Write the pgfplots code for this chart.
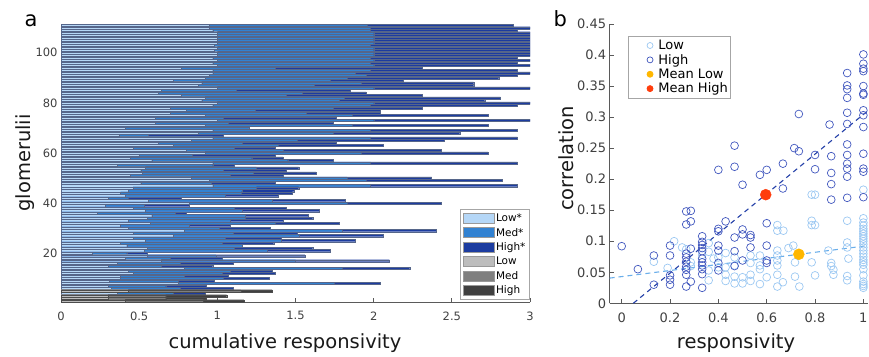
\documentclass[border=0pt]{standalone}
\usepackage{fontspec}
\setmainfont{DejaVu Sans}
\usepackage{pgfplots}
\pgfplotsset{compat=1.18}
\usepackage{pgfplotstable}
\definecolor{lowS}{HTML}{B5D7F7}
\definecolor{medS}{HTML}{3282D2}
\definecolor{highS}{HTML}{1C3CA0}
\definecolor{lowG}{HTML}{BDBDBD}
\definecolor{medG}{HTML}{7F7F7F}
\definecolor{highG}{HTML}{404040}
\definecolor{edge}{HTML}{56668A}
\definecolor{ptLow}{HTML}{9CC8F2}
\definecolor{ptHigh}{HTML}{4157BE}
\definecolor{fitHigh}{HTML}{2440A8}
\definecolor{fitLow}{HTML}{6AAEEA}
\definecolor{mLow}{HTML}{FFB700}
\definecolor{mHigh}{HTML}{FF3D0D}
\definecolor{axc}{HTML}{5A5A5A}
\definecolor{tickc}{HTML}{404040}

\pgfplotstableread{
i L M H
111 0.95 1.96 2.89
110 0.95 1.98 3.00
109 0.97 1.98 2.92
108 1.00 2.00 3.00
107 1.00 2.00 3.00
106 1.00 2.00 3.00
105 1.00 2.00 3.00
104 1.00 2.00 3.00
103 0.98 1.98 3.00
102 1.00 2.00 3.00
101 0.98 2.00 3.00
100 1.00 2.00 3.00
99 1.00 2.00 3.00
98 0.97 1.98 2.92
97 1.00 2.00 3.00
96 0.97 1.98 2.92
95 1.00 2.00 3.00
94 0.77 1.37 2.31
93 0.97 1.98 2.92
92 0.97 1.88 3.00
91 0.95 1.95 2.92
90 0.92 1.83 2.80
89 0.72 1.72 2.19
88 0.90 1.92 2.64
87 0.88 1.62 2.64
86 1.00 2.00 3.00
85 0.64 1.12 1.85
84 0.62 1.54 1.95
83 0.77 1.44 2.31
82 0.92 1.81 2.81
81 0.90 1.78 2.71
80 1.00 2.00 3.00
79 0.97 1.98 2.92
78 0.70 1.74 2.31
77 0.80 1.24 2.04
76 0.70 1.57 2.04
75 0.92 1.86 2.73
74 0.60 1.04 1.76
73 1.00 2.00 3.00
72 0.60 1.07 1.74
71 0.92 1.86 2.73
70 0.41 1.20 1.20
69 0.97 1.98 2.92
68 0.88 1.74 2.55
67 0.37 0.56 1.04
66 0.97 1.98 2.92
65 0.83 1.51 2.45
64 0.62 1.16 1.76
63 0.72 1.39 2.06
62 0.46 1.11 1.37
61 0.80 1.42 2.43
60 0.92 1.92 2.73
59 0.50 0.84 1.37
58 0.44 1.22 1.42
57 0.58 1.45 1.74
56 0.97 1.98 2.92
55 0.36 0.97 1.11
54 0.54 1.25 1.52
53 0.51 1.04 1.44
52 0.52 1.23 1.63
51 0.44 1.08 1.42
50 0.83 1.83 2.37
49 0.95 1.95 2.82
48 0.51 0.96 1.37
47 0.97 1.98 2.92
46 0.46 1.25 1.52
45 0.43 1.16 1.49
44 0.38 1.15 1.48
43 0.41 1.05 1.39
42 0.30 0.43 0.77
41 0.56 1.35 1.82
40 0.82 1.83 2.43
39 0.28 0.53 0.82
38 0.46 1.11 1.44
37 0.54 1.16 1.65
36 0.23 0.73 0.80
35 0.58 1.18 1.58
34 0.55 1.18 1.61
33 0.43 1.08 1.42
32 0.57 1.37 1.78
31 0.38 0.82 1.08
30 0.43 1.01 1.34
29 0.79 1.80 2.40
28 0.46 1.10 1.51
27 0.72 1.52 2.06
26 0.46 1.05 1.41
25 0.54 1.41 1.88
24 0.38 1.03 1.36
23 0.42 1.16 1.16
22 0.55 1.11 1.61
21 0.53 1.32 1.72
20 0.20 0.42 0.55
19 0.55 0.99 1.56
18 0.41 0.70 1.03
17 0.64 1.50 2.10
16 0.36 0.76 1.10
15 0.30 0.64 0.97
14 0.79 1.80 2.23
13 0.43 1.08 1.35
12 0.46 1.03 1.37
11 0.38 0.79 1.07
10 0.38 1.04 1.33
9 0.31 0.75 0.98
8 0.75 1.75 2.04
7 0.30 0.67 0.93
6 0.32 0.76 1.10
4 0.36 0.72 0.92
}\bluetab

\pgfplotstableread{
i L M H
5 0.43 1.15 1.35
3 0.30 0.67 1.06
2 0.30 0.67 0.93
1 0.41 0.91 1.17
}\graytab

\begin{document}
\begin{tikzpicture}
\useasboundingbox (0,0) rectangle (869pt,-356pt);

% ---------------- panel a ----------------
\begin{axis}[
  at={(61pt,-302pt)}, anchor=south west,
  scale only axis, width=469pt, height=278pt,
  xmin=0, xmax=3, ymin=0.5, ymax=111.5,
  axis x line*=bottom, axis y line*=left,
  axis line style={axc, line width=0.7pt},
  xtick={0,0.5,1,1.5,2,2.5,3}, ytick={20,40,60,80,100},
  tick align=inside, major tick length=4pt,
  tick style={axc, line width=0.7pt},
  ticklabel style={font=\fontsize{11.5}{13}\selectfont, text=tickc},
  xticklabel style={yshift=-6pt},
  /pgf/number format/assume math mode=true,
  legend image code/.code={\draw[#1] (0pt,-5pt) rectangle (31pt,5pt);},
  legend cell align=left,
  legend style={at={(0.9985,0.333)}, anchor=north east, draw=gray!70, line width=0.8pt,
    font=\fontsize{10.5}{12}\selectfont, row sep=2pt, inner xsep=2pt, inner ysep=2.5pt,
    nodes={inner sep=1.5pt}},
]
\addplot[xbar, bar shift=0pt, bar width=0.85, fill=highS, draw=edge, line width=0.2pt, forget plot] table[x=H,y=i]{\bluetab};
\addplot[xbar, bar shift=0pt, bar width=0.85, fill=medS, draw=edge, line width=0.2pt, forget plot] table[x=M,y=i]{\bluetab};
\addplot[xbar, bar shift=0pt, bar width=0.85, fill=lowS, draw=edge, line width=0.2pt, forget plot] table[x=L,y=i]{\bluetab};
\addplot[xbar, bar shift=0pt, bar width=0.85, fill=highG, draw=black!70, line width=0.2pt, forget plot] table[x=H,y=i]{\graytab};
\addplot[xbar, bar shift=0pt, bar width=0.85, fill=medG, draw=black!70, line width=0.2pt, forget plot] table[x=M,y=i]{\graytab};
\addplot[xbar, bar shift=0pt, bar width=0.85, fill=lowG, draw=black!70, line width=0.2pt, forget plot] table[x=L,y=i]{\graytab};
\addlegendimage{fill=lowS, draw=gray!80, line width=0.8pt}
\addlegendentry{Low*}
\addlegendimage{fill=medS, draw=gray!80, line width=0.8pt}
\addlegendentry{Med*}
\addlegendimage{fill=highS, draw=gray!80, line width=0.8pt}
\addlegendentry{High*}
\addlegendimage{fill=lowG, draw=gray!80, line width=0.8pt}
\addlegendentry{Low}
\addlegendimage{fill=medG, draw=gray!80, line width=0.8pt}
\addlegendentry{Med}
\addlegendimage{fill=highG, draw=gray!80, line width=0.8pt}
\addlegendentry{High}
\end{axis}

% ---------------- panel b ----------------
\begin{axis}[
  at={(609.6pt,-303.3pt)}, anchor=south west,
  scale only axis, width=258.6pt, height=279.3pt,
  xmin=-0.05, xmax=1.02, ymin=0, ymax=0.45,
  axis x line*=bottom, axis y line*=left,
  axis line style={axc, line width=0.7pt},
  xtick={0,0.2,0.4,0.6,0.8,1},
  ytick={0,0.05,0.1,0.15,0.2,0.25,0.3,0.35,0.4,0.45},
  tick align=inside, major tick length=4pt,
  tick style={axc, line width=0.7pt},
  ticklabel style={font=\fontsize{13}{15}\selectfont, text=tickc},
  xticklabel style={yshift=-6pt},
  /pgf/number format/.cd, fixed, precision=2, assume math mode=true, /pgfplots/.cd,
  legend cell align=left,
  legend image code/.code={\path (0pt,0pt) (26pt,0pt); \draw[#1] plot coordinates {(20pt,0pt)};},
  legend style={at={(0.072,0.957)}, anchor=north west, draw=gray!70, line width=0.8pt,
    font=\fontsize{13}{15}\selectfont, row sep=0pt, inner xsep=1pt, inner ysep=2pt,
    nodes={inner ysep=1.6pt}},
]
\addplot[only marks, mark=o, mark size=3.9pt, color=ptLow, line width=0.7pt,
  legend image post style={mark size=3pt}] coordinates {
(0.133,0.067) (0.19,0.057) (0.217,0.100) (0.25,0.090) (0.267,0.087) (0.286,0.066) (0.286,0.060)
(0.333,0.078) (0.36,0.097) (0.36,0.083) (0.36,0.053) (0.36,0.037) (0.38,0.072) (0.4,0.074)
(0.4,0.058) (0.43,0.081) (0.43,0.058) (0.43,0.046) (0.43,0.036) (0.467,0.074) (0.467,0.061)
(0.467,0.043) (0.467,0.032) (0.5,0.042) (0.5,0.032) (0.533,0.077) (0.533,0.065) (0.533,0.046)
(0.533,0.036) (0.572,0.077) (0.572,0.061) (0.572,0.055) (0.572,0.031) (0.6,0.042) (0.644,0.126)
(0.644,0.117) (0.669,0.117) (0.644,0.085) (0.644,0.077) (0.644,0.069) (0.644,0.061) (0.644,0.046)
(0.644,0.027) (0.667,0.034) (0.69,0.089) (0.71,0.093) (0.717,0.066) (0.717,0.043) (0.735,0.027)
(0.786,0.175) (0.8,0.175) (0.786,0.133) (0.786,0.126) (0.8,0.126) (0.786,0.066) (0.8,0.045)
(0.855,0.085) (0.867,0.065) (0.867,0.060) (0.876,0.054) (0.876,0.046) (0.933,0.133) (0.933,0.098)
(0.933,0.090) (0.938,0.072) (0.933,0.044) (0.933,0.037) (1,0.183) (1,0.137) (1,0.130) (1,0.125)
(1,0.120) (1,0.116) (1,0.112) (1,0.108) (1,0.104) (1,0.100) (1,0.095) (1,0.090) (1,0.085) (1,0.080)
(1,0.075) (1,0.070) (1,0.066) (1,0.062) (1,0.055) (1,0.045) (1,0.035) (1,0.031) (1,0.028) (1,0.025)
};
\addlegendentry{Low}
\addplot[only marks, mark=o, mark size=3.9pt, color=ptHigh, line width=0.7pt,
  legend image post style={mark size=3pt}] coordinates {
(0,0.092) (0.067,0.055) (0.133,0.077) (0.133,0.030)
(0.2,0.093) (0.2,0.077) (0.2,0.045) (0.2,0.038) (0.2,0.030)
(0.267,0.148) (0.267,0.127) (0.267,0.080) (0.267,0.074) (0.267,0.067) (0.267,0.059) (0.267,0.054)
(0.267,0.046) (0.267,0.027) (0.286,0.149) (0.286,0.132) (0.286,0.088) (0.286,0.035)
(0.333,0.108) (0.333,0.099) (0.333,0.094) (0.333,0.089) (0.333,0.084) (0.333,0.072) (0.333,0.066)
(0.333,0.061) (0.333,0.055) (0.333,0.047) (0.333,0.025)
(0.4,0.215) (0.4,0.120) (0.4,0.116) (0.4,0.093) (0.4,0.085) (0.4,0.065) (0.4,0.053)
(0.43,0.132) (0.467,0.254) (0.467,0.220) (0.467,0.106) (0.467,0.084) (0.467,0.060)
(0.5,0.191) (0.5,0.119) (0.5,0.111) (0.5,0.069) (0.533,0.110) (0.533,0.106) (0.533,0.090)
(0.572,0.207) (0.6,0.215) (0.6,0.129) (0.6,0.093) (0.6,0.069) (0.6,0.065)
(0.667,0.225) (0.667,0.185) (0.714,0.250) (0.733,0.245) (0.733,0.305)
(0.8,0.239) (0.8,0.216) (0.86,0.288) (0.867,0.237) (0.867,0.210) (0.867,0.192) (0.867,0.167)
(0.933,0.371) (0.933,0.351) (0.933,0.345) (0.933,0.331) (0.933,0.307) (0.933,0.289) (0.933,0.256)
(0.933,0.239) (0.933,0.225) (0.933,0.217) (0.933,0.204) (0.933,0.170)
(1,0.401) (1,0.386) (1,0.378) (1,0.374) (1,0.350) (1,0.338) (1,0.336) (1,0.311) (1,0.303)
(1,0.284) (1,0.241) (1,0.217) (1,0.212) (1,0.171)
};
\addlegendentry{High}
\addplot[fitHigh, line width=1.1pt, dash pattern=on 5pt off 4pt, forget plot] coordinates {(0.048,0) (1.02,0.3107)};
\addplot[fitLow, line width=1.1pt, dash pattern=on 5pt off 4pt, forget plot] coordinates {(-0.05,0.0406) (1.02,0.093)};
\addplot[only marks, mark=*, mark size=5.5pt, mark options={draw=mLow, fill=mLow},
  legend image post style={mark size=3pt}] coordinates {(0.733,0.079)};
\addlegendentry{Mean Low}
\addplot[only marks, mark=*, mark size=5.5pt, mark options={draw=mHigh, fill=mHigh},
  legend image post style={mark size=3pt}] coordinates {(0.596,0.175)};
\addlegendentry{Mean High}
\end{axis}

% ---------------- labels ----------------
\node[anchor=base, font=\fontsize{19.5}{22}\selectfont, text=black!90] at (285pt,-348pt) {cumulative responsivity};
\node[anchor=base, rotate=90, font=\fontsize{19.5}{22}\selectfont, text=black!90] at (30pt,-163pt) {glomerulii};
\node[anchor=base, font=\fontsize{19.5}{22}\selectfont, text=black!90] at (736pt,-348pt) {responsivity};
\node[anchor=base, rotate=90, font=\fontsize{19.5}{22}\selectfont, text=black!90] at (573pt,-158.5pt) {correlation};
\node[anchor=base west, font=\fontsize{21}{24}\selectfont] at (21pt,-26pt) {a};
\node[anchor=base west, font=\fontsize{21}{24}\selectfont] at (550pt,-27pt) {b};
\end{tikzpicture}
\end{document}
